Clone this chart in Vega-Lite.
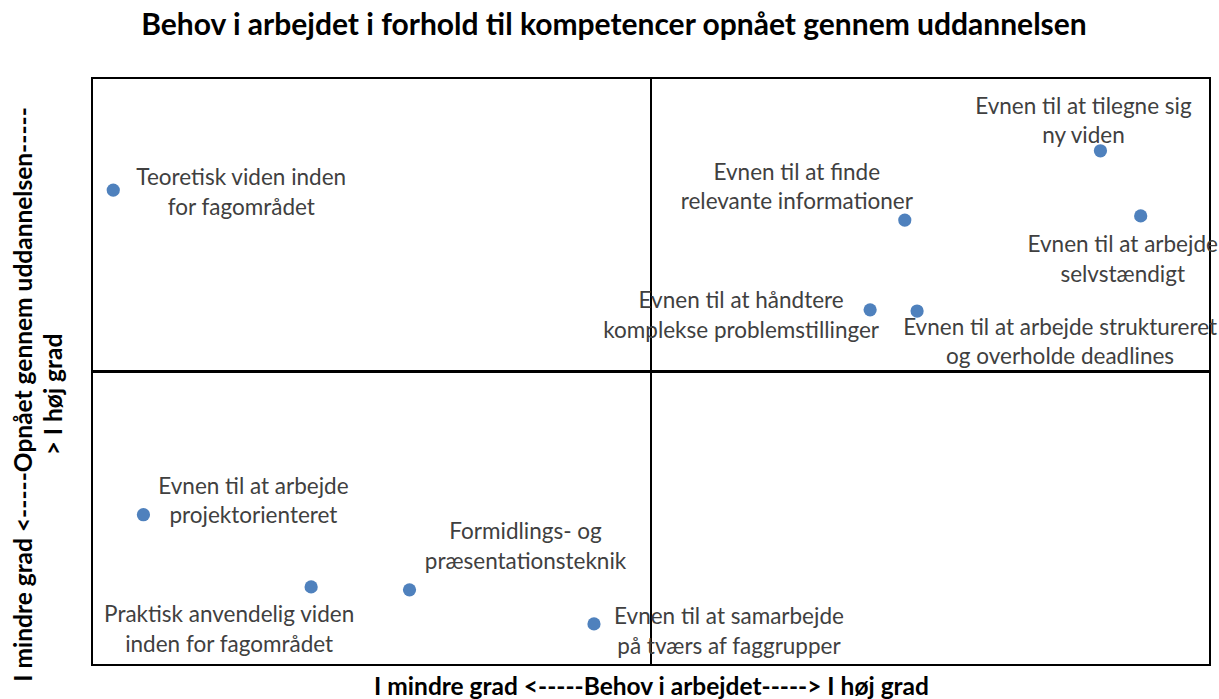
{
  "$schema": "https://vega.github.io/schema/vega-lite/v6.json",
  "width": 1118,
  "height": 587,
  "autosize": {"type": "none"},
  "padding": {"left": 92, "top": 78, "right": 9, "bottom": 34},
  "background": "white",
  "config": {
    "view": {"stroke": "black", "strokeWidth": 2},
    "font": "Lato"
  },
  "title": {
    "text": "Behov i arbejdet i forhold til kompetencer opnået gennem uddannelsen",
    "font": "Lato",
    "fontSize": 30,
    "fontWeight": "bold",
    "color": "black",
    "anchor": "middle",
    "dx": -37,
    "offset": 36
  },
  "data": {
    "values": [
      {"id": 1, "name": "Teoretisk viden inden\nfor fagområdet", "behov": 0.19, "opnaaet": 8.09},
      {"id": 2, "name": "Evnen til at tilegne sig\nny viden", "behov": 9.02, "opnaaet": 8.76},
      {"id": 3, "name": "Evnen til at finde\nrelevante informationer", "behov": 7.27, "opnaaet": 7.58},
      {"id": 4, "name": "Evnen til at arbejde\nselvstændigt", "behov": 9.38, "opnaaet": 7.65},
      {"id": 5, "name": "Evnen til at håndtere\nkomplekse problemstillinger", "behov": 6.96, "opnaaet": 6.05},
      {"id": 6, "name": "Evnen til at arbejde struktureret\nog overholde deadlines", "behov": 7.38, "opnaaet": 6.03},
      {"id": 7, "name": "Evnen til at arbejde\nprojektorienteret", "behov": 0.46, "opnaaet": 2.56},
      {"id": 8, "name": "Praktisk anvendelig viden\ninden for fagområdet", "behov": 1.96, "opnaaet": 1.33},
      {"id": 9, "name": "Formidlings- og\npræsentationsteknik", "behov": 2.84, "opnaaet": 1.28},
      {"id": 10, "name": "Evnen til at samarbejde\npå tværs af faggrupper", "behov": 4.49, "opnaaet": 0.70}
    ]
  },
  "encoding": {
    "x": {
      "field": "behov", "type": "quantitative",
      "scale": {"domain": [0, 10], "nice": false, "zero": false},
      "axis": {
        "title": "I mindre grad <-----Behov i arbejdet-----> I høj grad",
        "titleFont": "Lato", "titleFontSize": 24.5, "titleFontWeight": "bold", "titleColor": "black",
        "titlePadding": 10,
        "labels": false, "ticks": false, "domain": false, "grid": false
      }
    },
    "y": {
      "field": "opnaaet", "type": "quantitative",
      "scale": {"domain": [0, 10], "nice": false, "zero": false},
      "axis": {
        "title": ["I mindre grad <-----Opnået gennem uddannelsen-----", "> I høj grad"],
        "titleFont": "Lato", "titleFontSize": 24.5, "titleFontWeight": "bold", "titleColor": "black",
        "titleLineHeight": 30,
        "titlePadding": 26,
        "titleY": 316,
        "labels": false, "ticks": false, "domain": false, "grid": false
      }
    }
  },
  "layer": [
    {"mark": {"type": "rule", "color": "black", "strokeWidth": 2}, "encoding": {"x": {"datum": 5}, "y": null}},
    {"mark": {"type": "rule", "color": "black", "strokeWidth": 2}, "encoding": {"y": {"datum": 5}, "x": null}},
    {"mark": {"type": "circle", "size": 175, "color": "#4f81bd", "opacity": 1}},
    {"transform": [{"filter": "datum.id == 1"}], "mark": {"type": "text", "lineBreak": "\n", "align": "center", "baseline": "middle", "font": "Lato", "fontSize": 22.5, "color": "#404040", "lineHeight": 29.5, "dx": 128, "dy": -12}, "encoding": {"text": {"field": "name"}}},
    {"transform": [{"filter": "datum.id == 2"}], "mark": {"type": "text", "lineBreak": "\n", "align": "center", "baseline": "middle", "font": "Lato", "fontSize": 22.5, "color": "#404040", "lineHeight": 29.5, "dx": -17, "dy": -44}, "encoding": {"text": {"field": "name"}}},
    {"transform": [{"filter": "datum.id == 3"}], "mark": {"type": "text", "lineBreak": "\n", "align": "center", "baseline": "middle", "font": "Lato", "fontSize": 22.5, "color": "#404040", "lineHeight": 29.5, "dx": -108, "dy": -47.5}, "encoding": {"text": {"field": "name"}}},
    {"transform": [{"filter": "datum.id == 4"}], "mark": {"type": "text", "lineBreak": "\n", "align": "center", "baseline": "middle", "font": "Lato", "fontSize": 22.5, "color": "#404040", "lineHeight": 29.5, "dx": -18, "dy": 29.5}, "encoding": {"text": {"field": "name"}}},
    {"transform": [{"filter": "datum.id == 5"}], "mark": {"type": "text", "lineBreak": "\n", "align": "center", "baseline": "middle", "font": "Lato", "fontSize": 22.5, "color": "#404040", "lineHeight": 29.5, "dx": -129, "dy": -8.5}, "encoding": {"text": {"field": "name"}}},
    {"transform": [{"filter": "datum.id == 6"}], "mark": {"type": "text", "lineBreak": "\n", "align": "center", "baseline": "middle", "font": "Lato", "fontSize": 22.5, "color": "#404040", "lineHeight": 29.5, "dx": 143, "dy": 16.5}, "encoding": {"text": {"field": "name"}}},
    {"transform": [{"filter": "datum.id == 7"}], "mark": {"type": "text", "lineBreak": "\n", "align": "center", "baseline": "middle", "font": "Lato", "fontSize": 22.5, "color": "#404040", "lineHeight": 29.5, "dx": 110, "dy": -28}, "encoding": {"text": {"field": "name"}}},
    {"transform": [{"filter": "datum.id == 8"}], "mark": {"type": "text", "lineBreak": "\n", "align": "center", "baseline": "middle", "font": "Lato", "fontSize": 22.5, "color": "#404040", "lineHeight": 29.5, "dx": -82, "dy": 28.5}, "encoding": {"text": {"field": "name"}}},
    {"transform": [{"filter": "datum.id == 9"}], "mark": {"type": "text", "lineBreak": "\n", "align": "center", "baseline": "middle", "font": "Lato", "fontSize": 22.5, "color": "#404040", "lineHeight": 29.5, "dx": 116, "dy": -57.5}, "encoding": {"text": {"field": "name"}}},
    {"transform": [{"filter": "datum.id == 10"}], "mark": {"type": "text", "lineBreak": "\n", "align": "center", "baseline": "middle", "font": "Lato", "fontSize": 22.5, "color": "#404040", "lineHeight": 29.5, "dx": 135, "dy": -6.5}, "encoding": {"text": {"field": "name"}}}
  ]
}
